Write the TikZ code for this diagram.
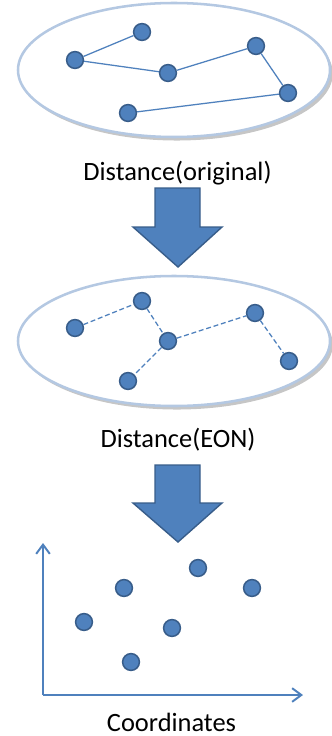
\documentclass[tikz,border=0pt]{standalone}
\usepackage{fontspec}
\setmainfont{Carlito}
\usepackage{xcolor}
\usepackage{tikz}
\usetikzlibrary{arrows.meta, shadows}
\definecolor{ptblue}{RGB}{79,129,189}
\definecolor{ptedge}{RGB}{56,93,138}
\definecolor{ringblue}{RGB}{180,200,226}

\begin{document}
\begin{tikzpicture}[x=0.025cm, y=-0.025cm,
   pt/.style={circle, draw=ptedge, fill=ptblue, line width=1.1pt,
              minimum size=4.2mm, inner sep=0pt},
   link/.style={draw=ptblue, line width=0.9pt},
   eon/.style={link, dash pattern=on 3.5pt off 2pt},
   ring/.style={draw=ringblue, line width=1.8pt, fill=white,
                drop shadow={shadow xshift=2pt, shadow yshift=-2.5pt, opacity=0.45}},
   blk/.style={fill=ptblue, draw=ptedge, line width=1pt, line join=miter},
   axis/.style={draw=ptblue, line width=1.4pt, -{Straight Barb[length=2.3mm, width=3.4mm]}},
   lbl/.style={font=\fontsize{18.8}{22}\selectfont, anchor=base, inner sep=0pt}]
  \useasboundingbox (0,0) rectangle (331,736);

  % original distances
  \path[ring] (174,70) ellipse [x radius=156, y radius=67];
  \node[pt] (a1) at (142,32) {};
  \node[pt] (b1) at (75,60) {};
  \node[pt] (c1) at (168,73) {};
  \node[pt] (d1) at (256,46) {};
  \node[pt] (e1) at (288,93) {};
  \node[pt] (f1) at (128,113) {};
  \draw[link] (b1) -- (a1);
  \draw[link] (b1) -- (c1);
  \draw[link] (c1) -- (d1);
  \draw[link] (d1) -- (e1);
  \draw[link] (e1) -- (f1);
  \node[lbl] (orig) at (177.5,180) {Distance(original)};

  \draw[blk] (155,188) -- (200,188) -- (200,227) -- (222,227) -- (178,267)
             -- (133,227) -- (155,227) -- cycle;

  % EON distances
  \path[ring] (174,341) ellipse [x radius=156, y radius=65];
  \node[pt] (a2) at (142,301) {};
  \node[pt] (b2) at (75,328) {};
  \node[pt] (c2) at (168,341) {};
  \node[pt] (d2) at (255,313) {};
  \node[pt] (e2) at (289,361) {};
  \node[pt] (f2) at (128,381) {};
  \draw[eon] (b2) -- (a2);
  \draw[eon] (a2) -- (c2);
  \draw[eon] (c2) -- (d2);
  \draw[eon] (d2) -- (e2);
  \draw[eon] (c2) -- (f2);
  \node[lbl] (eonl) at (178,447) {Distance(EON)};

  \draw[blk] (155,465) -- (200,465) -- (200,503) -- (222,503) -- (178,542)
             -- (133,503) -- (155,503) -- cycle;

  % coordinates
  \coordinate (org) at (43,695);
  \coordinate (ytop) at (43,543);
  \coordinate (xend) at (303,695);
  \draw[axis] (org) -- (ytop);
  \draw[axis] (org) -- (xend);
  \node[pt] (p1) at (198,568) {};
  \node[pt] (p2) at (124,588) {};
  \node[pt] (p3) at (252,588) {};
  \node[pt] (p4) at (84,622) {};
  \node[pt] (p5) at (172,628) {};
  \node[pt] (p6) at (131,662) {};
  \node[lbl] (crd) at (171.5,731) {Coordinates};
\end{tikzpicture}
\end{document}
